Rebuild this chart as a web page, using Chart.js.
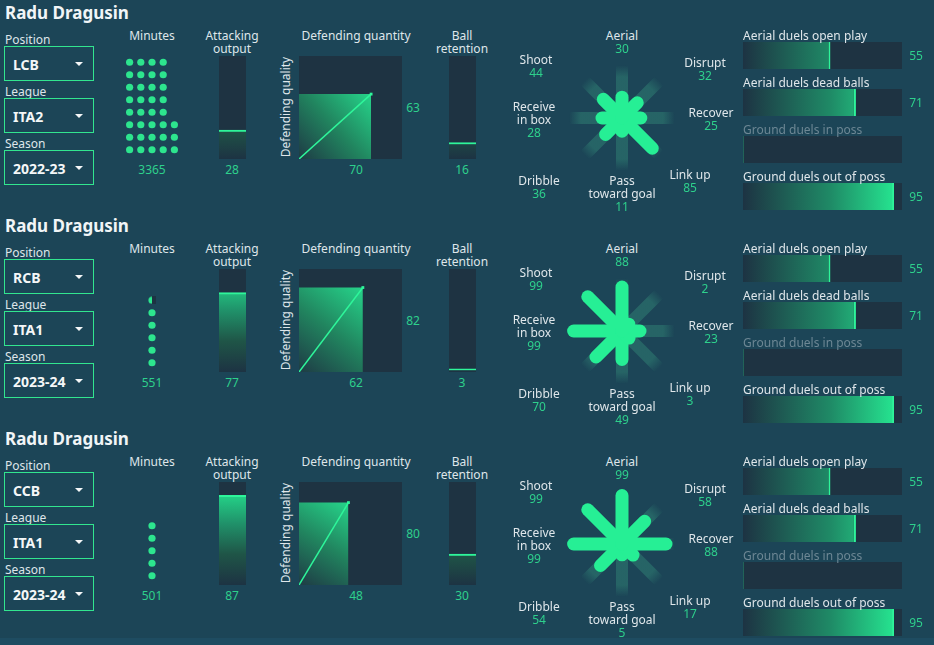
<!DOCTYPE html>
<html>
<head>
<meta charset="utf-8">
<script src="https://cdn.jsdelivr.net/npm/chart.js@4.4.0/dist/chart.umd.min.js"></script>
<style>
  body { margin: 0; background: #1c4557; }
  #board { position: relative; width: 934px; height: 645px; overflow: hidden; background: #1c4557; font-family: 'Noto Sans', sans-serif; }
  #strip { position: absolute; left: 0; top: 638px; width: 934px; height: 7px; background: #1e4c61; }
  .t { position: absolute; white-space: nowrap; color: #dfe6ea; font-size: 12px; line-height: 13px; }
  .c { transform: translate(-50%, -50%); text-align: center; }
  .l { transform: translateY(-50%); }
  .num { color: #2ed08c; }
  .dim { color: #6d8794; }
  .title { font-size: 17px; font-weight: 700; color: #f1f5f7; }
  .box { position: absolute; left: 4px; width: 90px; height: 35px; box-sizing: border-box; border: 1px solid #32e58f; }
  .box span { position: absolute; left: 8px; top: 50%; transform: translateY(-50%); font-weight: 700; font-size: 14px; color: #f4f7f8; }
  .box i { position: absolute; left: 70px; top: 15px; width: 0; height: 0; border-left: 4px solid transparent; border-right: 4px solid transparent; border-top: 4px solid #f4f7f8; }
  canvas { position: absolute; }
</style>
</head>
<body>
<div id="board"><div id="strip"></div></div>
<script>
const playerName = 'Radu Dragusin';
const positions = ['LCB', 'RCB', 'CCB'];
const leagues = ['ITA2', 'ITA1', 'ITA1'];
const seasons = ['2022-23', '2023-24', '2023-24'];
const minutes = [3365, 551, 501];
const attackingOutput = [28, 77, 87];
const defendingQuantity = [70, 62, 48];
const defendingQuality = [63, 82, 80];
const ballRetention = [16, 3, 30];

// clockwise from the top
const styleLabels = [['Aerial'], ['Disrupt'], ['Recover'], ['Link up'], ['Pass', 'toward goal'], ['Dribble'], ['Receive', 'in box'], ['Shoot']];
const styleValues = [
  [30, 32, 25, 85, 11, 36, 28, 44],
  [88, 2, 23, 3, 49, 70, 99, 99],
  [99, 58, 88, 17, 5, 54, 99, 99]
];

const duelLabels = ['Aerial duels open play', 'Aerial duels dead balls', 'Ground duels in poss', 'Ground duels out of poss'];
const duelValues = [
  [55, 71, null, 95],
  [55, 71, null, 95],
  [55, 71, null, 95]
];

const MINUTES_PER_DOT = 96;
const ROW_H = 213;
const DARK = '#1e3342';
const GREEN = '#26ef95';
const EDGE = '#2ef59a';

const board = document.getElementById('board');

function addText(x, y, lines, cls, extra) {
  const d = document.createElement('div');
  d.className = 't ' + cls;
  d.style.left = x + 'px';
  d.style.top = y + 'px';
  d.innerHTML = [].concat(lines).join('<br>');
  if (extra) d.style.cssText += extra;
  board.appendChild(d);
  return d;
}

function addCanvas(x, y, w, h, bg) {
  const c = document.createElement('canvas');
  c.width = w; c.height = h;
  c.style.left = x + 'px'; c.style.top = y + 'px';
  c.style.width = w + 'px'; c.style.height = h + 'px';
  if (bg) c.style.background = bg;
  board.appendChild(c);
  return c;
}

function baseOptions() {
  return {
    responsive: false,
    maintainAspectRatio: false,
    animation: false,
    events: [],
    layout: { padding: 0, autoPadding: false },
    plugins: { legend: { display: false }, tooltip: { enabled: false } }
  };
}

function vertGradient(ctx) {
  const chart = ctx.chart, a = chart.chartArea;
  if (!a) return GREEN;
  const g = chart.ctx.createLinearGradient(0, a.bottom, 0, a.top);
  g.addColorStop(0, '#1d3343');
  g.addColorStop(0.3, '#1f5547');
  g.addColorStop(0.6, '#20926a');
  g.addColorStop(1, GREEN);
  return g;
}

function horizGradient(ctx) {
  const chart = ctx.chart, a = chart.chartArea;
  if (!a) return GREEN;
  const g = chart.ctx.createLinearGradient(a.left, 0, a.right, 0);
  g.addColorStop(0, '#1d3343');
  g.addColorStop(0.55, '#1f8a66');
  g.addColorStop(1, GREEN);
  return g;
}

function percentBar(x, y, value) {
  const cv = addCanvas(x, y, 27, 103, DARK);
  const opts = baseOptions();
  opts.scales = {
    x: { display: false },
    y: { display: false, min: 0, max: 100 }
  };
  new Chart(cv, {
    type: 'bar',
    data: {
      labels: [''],
      datasets: [{
        data: [value],
        backgroundColor: vertGradient,
        borderColor: EDGE,
        borderWidth: { top: 2, left: 0, right: 0, bottom: 0 },
        barPercentage: 1,
        categoryPercentage: 1
      }]
    },
    options: opts
  });
}

function partialDot(frac) {
  const c = document.createElement('canvas');
  c.width = 8; c.height = 8;
  const g = c.getContext('2d');
  g.fillStyle = '#2de58e';
  g.beginPath(); g.arc(4, 4, 3.6, 0, Math.PI * 2); g.fill();
  g.fillStyle = '#1d3343';
  g.fillRect(Math.round(8 * frac * 0.6), 0, 8, 8);
  return c;
}

function minutesWaffle(off, total) {
  const exact = total / MINUTES_PER_DOT;
  const full = Math.floor(exact);
  const frac = exact - full;
  const slots = full + (frac >= 0.5 ? 1 : 0);
  const cols = Math.ceil(slots / 8);
  const pos = i => ({ x: Math.floor(i / 8) - (cols - 1) / 2, y: (i % 8) + 1 });
  const dots = [];
  for (let i = 0; i < full; i++) dots.push(pos(i));
  const part = slots > full ? [pos(full)] : [];

  const cv = addCanvas(124, 56 + off, 56, 100);
  const opts = baseOptions();
  opts.scales = {
    x: { type: 'linear', display: false, min: -2.5, max: 2.5 },
    y: { type: 'linear', display: false, min: 0.5, max: 8.5 }
  };
  new Chart(cv, {
    type: 'scatter',
    data: {
      datasets: [
        { data: dots, pointRadius: 3.6, pointBackgroundColor: '#2de58e', pointBorderWidth: 0, clip: false },
        { data: part, pointStyle: partialDot(frac), pointRadius: 4, clip: false }
      ]
    },
    options: opts
  });
}

function defendingSquare(off, qty, qual) {
  const cv = addCanvas(299, 56 + off, 103, 103, DARK);
  const opts = baseOptions();
  opts.scales = {
    x: { type: 'linear', display: false, min: 0, max: 100 },
    y: { type: 'linear', display: false, min: 0, max: 100 }
  };
  new Chart(cv, {
    type: 'scatter',
    data: {
      datasets: [
        {
          type: 'line',
          data: [{ x: 0, y: qual }, { x: qty, y: qual }],
          fill: 'origin',
          borderWidth: 0,
          pointRadius: 0,
          order: 1,
          backgroundColor: ctx => {
            const ch = ctx.chart, a = ch.chartArea;
            if (!a) return GREEN;
            const g = ch.ctx.createLinearGradient(a.left, a.bottom,
              ch.scales.x.getPixelForValue(qty), ch.scales.y.getPixelForValue(qual));
            g.addColorStop(0, '#1e3b45');
            g.addColorStop(0.5, '#21855f');
            g.addColorStop(1, '#26d48a');
            return g;
          }
        },
        {
          type: 'line',
          data: [{ x: 0, y: 0 }, { x: qty, y: qual }],
          borderColor: EDGE,
          borderWidth: 1.5,
          pointRadius: [0, 2],
          pointStyle: 'rect',
          pointBackgroundColor: EDGE,
          pointBorderWidth: 0,
          order: 0,
          clip: false
        }
      ]
    },
    options: opts
  });
}

function styleStar(off, values) {
  const UNIT = 0.4;           // px per unit
  const HALF = 65;            // canvas half size in px
  const cv = addCanvas(622 - HALF, 118 + off - HALF, HALF * 2, HALF * 2);
  const span = HALF / UNIT;
  const opts = baseOptions();
  opts.scales = {
    x: { type: 'linear', display: false, min: -span, max: span },
    y: { type: 'linear', display: false, min: -span, max: span }
  };
  const end = (i, len) => {
    const a = i * Math.PI / 4;
    return { x: len * Math.sin(a), y: len * Math.cos(a) };
  };
  const trackColor = ctx => {
    const ch = ctx.chart, a = ch.chartArea;
    if (!a) return 'rgba(70,200,150,0.22)';
    const cx = (a.left + a.right) / 2, cy = (a.top + a.bottom) / 2;
    const r = ch.scales.x.getPixelForValue(132) - cx;
    const g = ch.ctx.createRadialGradient(cx, cy, 0, cx, cy, r);
    g.addColorStop(0, 'rgba(72,200,150,0.24)');
    g.addColorStop(0.78, 'rgba(72,200,150,0.24)');
    g.addColorStop(1, 'rgba(72,200,150,0)');
    return g;
  };
  const datasets = [];
  styleLabels.forEach((_, i) => {
    datasets.push({
      data: [{ x: 0, y: 0 }, end(i, 132)],
      showLine: true, borderWidth: 12, borderCapStyle: 'butt',
      borderColor: trackColor, pointRadius: 0, order: 1, clip: false
    });
  });
  values.forEach((v, i) => {
    datasets.push({
      data: [{ x: 0, y: 0 }, end(i, 22 + v)],
      showLine: true, borderWidth: 13, borderCapStyle: 'round',
      borderColor: GREEN, pointRadius: 0, order: 0, clip: false
    });
  });
  new Chart(cv, { type: 'scatter', data: { datasets }, options: opts });

  const labelPos = [[0, -83], [83, -56], [89, -6], [68, 56], [0, 62], [-83, 62], [-88, -12], [-86, -59]];
  styleLabels.forEach((lab, i) => {
    const [dx, dy] = labelPos[i];
    const top = 118 + off + dy;
    lab.forEach((line, k) => addText(622 + dx, top + k * 13, line, 'c'));
    addText(622 + dx, top + lab.length * 13, String(values[i]), 'c num');
  });
}

function duelBars(off, values) {
  const cv = addCanvas(743, 32 + off, 159, 188);
  const opts = baseOptions();
  opts.indexAxis = 'y';
  opts.scales = {
    x: { type: 'linear', display: false, min: 0, max: 100 },
    y: { display: false }
  };
  new Chart(cv, {
    type: 'bar',
    data: {
      labels: duelLabels,
      datasets: [
        {
          data: values.map(v => v === null ? 0 : v),
          backgroundColor: horizGradient,
          borderColor: EDGE,
          borderWidth: { right: 2, left: 0, top: 0, bottom: 0 },
          minBarLength: 1,
          barPercentage: 27 / 47, categoryPercentage: 1,
          grouped: false, order: 0
        },
        {
          data: duelLabels.map(() => 100),
          backgroundColor: DARK,
          borderWidth: 0,
          barPercentage: 27 / 47, categoryPercentage: 1,
          grouped: false, order: 1
        }
      ]
    },
    options: opts
  });
  duelLabels.forEach((lab, i) => {
    const cy = 35 + i * 47 + off;
    addText(743, cy, lab, values[i] === null ? 'l dim' : 'l');
    if (values[i] !== null) addText(916, cy + 20, String(values[i]), 'c num');
  });
}

function addBox(top, text) {
  const b = document.createElement('div');
  b.className = 'box';
  b.style.top = top + 'px';
  b.innerHTML = '<span></span><i></i>';
  b.firstChild.textContent = text;
  board.appendChild(b);
}

[0, 1, 2].forEach(r => {
  const off = r * ROW_H;
  addText(5, 12 + off, playerName, 'l title');

  addText(5, 39 + off, 'Position', 'l');
  addBox(46 + off, positions[r]);
  addText(5, 91 + off, 'League', 'l');
  addBox(98 + off, leagues[r]);
  addText(5, 143 + off, 'Season', 'l');
  addBox(150 + off, seasons[r]);

  addText(152, 35 + off, 'Minutes', 'c');
  minutesWaffle(off, minutes[r]);
  addText(152, 169 + off, String(minutes[r]), 'c num');

  addText(232, 41.5 + off, ['Attacking', 'output'], 'c');
  percentBar(219, 56 + off, attackingOutput[r]);
  addText(232, 169 + off, String(attackingOutput[r]), 'c num');

  addText(356, 35 + off, 'Defending quantity', 'c');
  addText(285, 107 + off, 'Defending quality', 'c', 'transform:translate(-50%,-50%) rotate(-90deg);');
  defendingSquare(off, defendingQuantity[r], defendingQuality[r]);
  addText(356, 169 + off, String(defendingQuantity[r]), 'c num');
  addText(413, 107 + off, String(defendingQuality[r]), 'c num');

  addText(462, 41.5 + off, ['Ball', 'retention'], 'c');
  percentBar(449, 56 + off, ballRetention[r]);
  addText(462, 169 + off, String(ballRetention[r]), 'c num');

  styleStar(off, styleValues[r]);
  duelBars(off, duelValues[r]);
});
</script>
</body>
</html>
